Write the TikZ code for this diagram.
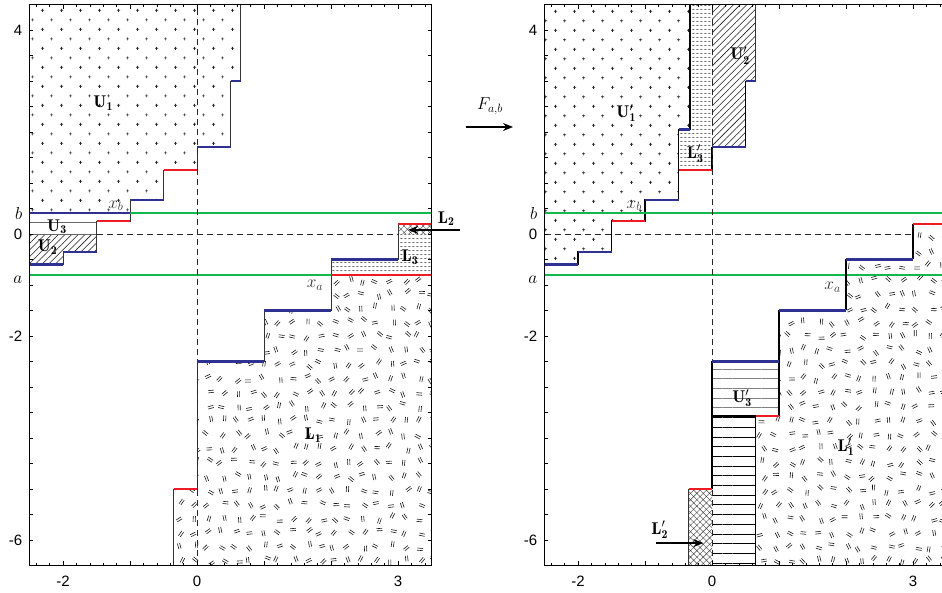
\documentclass[tikz,border=0pt]{standalone}
\usepackage{fontspec}
\setsansfont{Liberation Sans}
\usepackage{tikz}
\usetikzlibrary{arrows.meta, patterns, patterns.meta}
\definecolor{stepblue}{HTML}{2E3192}
\definecolor{stepred}{HTML}{ED1C24}
\definecolor{levelgreen}{HTML}{14B84A}

% plus signs on a staggered grid
\pgfdeclarepatternformonly{plusses}{\pgfpointorigin}{\pgfqpoint{19pt}{19.4pt}}{\pgfqpoint{19pt}{19.4pt}}{%
  \pgfsetlinewidth{0.7pt}%
  \pgfpathmoveto{\pgfqpoint{3.2pt}{4.85pt}}\pgfpathlineto{\pgfqpoint{6.3pt}{4.85pt}}%
  \pgfpathmoveto{\pgfqpoint{4.75pt}{3.3pt}}\pgfpathlineto{\pgfqpoint{4.75pt}{6.4pt}}%
  \pgfpathmoveto{\pgfqpoint{12.7pt}{14.55pt}}\pgfpathlineto{\pgfqpoint{15.8pt}{14.55pt}}%
  \pgfpathmoveto{\pgfqpoint{14.25pt}{13pt}}\pgfpathlineto{\pgfqpoint{14.25pt}{16.1pt}}%
  \pgfusepath{stroke}}
% rows of short dashes
\pgfdeclarepatternformonly{dashrows}{\pgfpointorigin}{\pgfqpoint{4pt}{3.6pt}}{\pgfqpoint{4pt}{3.6pt}}{%
  \pgfsetlinewidth{0.7pt}%
  \pgfpathmoveto{\pgfqpoint{0.4pt}{1.8pt}}\pgfpathlineto{\pgfqpoint{2.9pt}{1.8pt}}%
  \pgfusepath{stroke}}

\tikzset{
  plusfill/.style={pattern=plusses, pattern color=black!85},
  dotfill/.style={pattern=dashrows, pattern color=black!90},
  hatchfill/.style={pattern={Lines[angle=45,distance=4.7pt,line width=0.55pt]}, pattern color=black!90},
  crossfill/.style={pattern={Hatch[angle=45,distance=4.5pt,line width=0.4pt]}, pattern color=black!75},
  hlinefill/.style={pattern={Lines[angle=0,distance=9.7pt,line width=0.6pt]}, pattern color=black},
  greyhlinefill/.style={pattern={Lines[angle=0,distance=9.7pt,line width=0.6pt]}, pattern color=black!50},
  eqmark/.style={line width=0.6pt, black!90},
  bluestep/.style={stepblue, line width=2.4pt},
  redstep/.style={stepred, line width=2.4pt},
  greenlevel/.style={draw=levelgreen, line width=1.6pt},
  zeroline/.style={black!85, line width=0.9pt, dash pattern=on 6pt off 4pt},
  thinstair/.style={black!80, line width=0.8pt},
  thickstair/.style={black, line width=1.5pt},
  framebox/.style={black, line width=1.5pt},
  tickline/.style={black, line width=0.6pt},
  bigarrow/.style={-{Stealth[length=10pt,width=8pt]}, line width=1.4pt},
  lab/.style={font=\fontsize{17}{19}\selectfont, inner sep=0pt},
  ticklab/.style={font=\sffamily\fontsize{15}{17}\selectfont, inner sep=0pt},
}

% random double dashes: x0, columns, rows, seed
\newcommand{\eqfield}[4]{%
  \pgfmathsetseed{#4}
  \foreach \i in {0,...,#2}{
    \foreach \j in {0,...,#3}{
      \pgfmathsetmacro{\mx}{#1+0.1+\i*0.21+0.05*rand}
      \pgfmathsetmacro{\my}{-6.4+\j*0.275+0.06*rand}
      \pgfmathsetmacro{\ma}{180*rnd}
      \draw[eqmark, shift={(\mx,\my)}, rotate=\ma] (-2.9pt,-1.1pt) -- (2.9pt,-1.1pt) (-2.9pt,1.1pt) -- (2.9pt,1.1pt);
    }
  }
}

% axes box, ticks and tick labels
\newcommand{\plotframe}[1]{%
  \foreach \tx in {-2.4,-2.2,...,3.45}{
    \draw[tickline] (\tx,-6.5) -- ++(0,2.5pt);
    \draw[tickline] (\tx,4.5) -- ++(0,-2.5pt);
  }
  \foreach \tx in {-2,...,3}{
    \draw[tickline] (\tx,-6.5) -- ++(0,5pt);
    \draw[tickline] (\tx,4.5) -- ++(0,-5pt);
  }
  \foreach \ty in {-6,-5.5,...,4.1}{
    \draw[tickline] (-2.5,\ty) -- ++(3.5pt,0);
    \draw[tickline] (3.5,\ty) -- ++(-3.5pt,0);
  }
  \draw[framebox] (-2.5,-6.5) rectangle (3.5,4.5);
  \foreach \tx/\tn in {-2/m2, 0/0, 3/3}
    \node[ticklab, anchor=north] (#1x\tn) at ([yshift=-10pt]\tx,-6.5) {\tx};
  \foreach \ty/\tn in {4/4, 0/0, -2/m2, -6/m6}
    \node[ticklab, anchor=east] (#1y\tn) at ([xshift=-7pt]-2.5,\ty) {\ty};
  \node[lab, anchor=east] (#1yb) at ([xshift=-7pt]-2.5,0.41) {$b$};
  \node[lab, anchor=east] (#1ya) at ([xshift=-7pt,yshift=-5pt]-2.5,-0.8) {$a$};
}

\begin{document}
\begin{tikzpicture}
  \useasboundingbox (0,0) rectangle (942pt,592pt);
  \clip (0,0) rectangle (942pt,592pt);
  \fill[white] (0,0) rectangle (942pt,592pt);

  % ---- before the map ----
  \begin{scope}[shift={(197pt,358pt)}, x=67pt, y=51pt]
    \fill[plusfill] (-2.5,4.5) -| (0.65,3) -| (0.5,1.7) -| (0,1.25) -| (-0.5,0.67) -| (-1,0.41) -| (-2.5,4.5) -- cycle;
    \fill[hatchfill] (-2.5,0) -| (-1.5,-0.35) -| (-2,-0.6) -| (-2.5,0) -- cycle;
    \draw[black!60, line width=0.8pt, fill=white] (-2.5,0) rectangle (-1.5,0.22);
    \fill[dotfill] (2,-0.8) |- (3,-0.5) |- (3.5,0) -- (3.5,-0.8) -- cycle;
    \fill[crossfill] (3,0) rectangle (3.5,0.2);
    \begin{scope}
      \clip (-0.35,-6.5) |- (0,-5) |- (1,-2.5) |- (2,-1.5) |- (3.5,-0.8) -- (3.5,-6.5) -- cycle;
      \eqfield{-0.35}{18}{21}{11}
    \end{scope}
    \draw[thinstair] (-2.5,-0.6) -| (-2,-0.35) -| (-1.5,0.25) -| (-1,0.67) -| (-0.5,1.25) -| (0,1.7) -| (0.5,3) -| (0.65,4.5);
    \draw[thinstair] (-0.35,-6.5) |- (0,-5) |- (1,-2.5) |- (2,-1.5) |- (3,-0.5) |- (3.5,0.2);
    \draw[greenlevel] (-2.5,-0.8) -- (3.5,-0.8);
    \draw[greenlevel] (-2.5,0.41) -- (3.5,0.41);
    \draw[zeroline] (0,-6.5) -- (0,4.5);
    \draw[zeroline] (-1.5,0) -- (3,0);
    \foreach \xa/\xb/\yy in {-2.5/-2/-0.6, -2/-1.5/-0.35, -1/-0.5/0.67, 0/0.5/1.7, 0.5/0.65/3,
                             -2.5/-1/0.41, 0/1/-2.5, 1/2/-1.5, 2/3/-0.5}
      \draw[bluestep] (\xa,\yy) -- (\xb,\yy);
    \foreach \xa/\xb/\yy in {-1.5/-1/0.25, -0.5/0/1.25, -0.35/0/-5, 3/3.5/0.2, 2/3.5/-0.8}
      \draw[redstep] (\xa,\yy) -- (\xb,\yy);
    \plotframe{l}
    \node[lab] (U1) at (-1.4,2.57) {$\mathbf{U_1}$};
    \node[lab] (U3) at (-2.09,0.14) {$\mathbf{U_3}$};
    \node[lab] (U2) at (-2.23,-0.26) {$\mathbf{U_2}$};
    \node[lab, black!80] (xb) at (-1.21,0.55) {$x_b$};
    \node[lab] (L3) at (3.18,-0.45) {$\mathbf{L_3}$};
    \node[lab, black!80] (xa) at (1.76,-1.0) {$x_a$};
    \node[lab] (L1) at (1.73,-3.94) {$\mathbf{L_1}$};
    \node[lab] (L2) at (3.72,0.3) {$\mathbf{L_2}$};
    \coordinate (L2tail) at (3.92,0.08);
    \coordinate (L2head) at (3.15,0.08);
    \draw[bigarrow] (L2tail) -- (L2head);
  \end{scope}

  % ---- the map ----
  \coordinate (Ftail) at (466pt,465pt);
  \coordinate (Fhead) at (513pt,465pt);
  \draw[bigarrow] (Ftail) -- (Fhead);
  \node[lab] (Fab) at (490pt,486pt) {$F_{a,b}$};

  % ---- after the map ----
  \begin{scope}[shift={(712pt,358pt)}, x=67pt, y=51pt]
    \fill[plusfill] (-2.5,4.5) -| (-0.33,2.05) -| (-0.5,0.67) -| (-1,0.25) -| (-1.5,-0.35) -| (-2,-0.6) -| (-2.5,4.5) -- cycle;
    \fill[dotfill] (-0.5,1.25) -| (0,4.5) -| (-0.33,2.05) -| (-0.5,1.25) -- cycle;
    \fill[hatchfill] (0,1.7) -| (0.5,3) -| (0.65,4.5) -| (0,1.7) -- cycle;
    \fill[greyhlinefill] (0,-3.57) rectangle (1,-2.5);
    \fill[hlinefill] (0,-6.5) rectangle (0.65,-3.57);
    \fill[crossfill] (-0.35,-6.5) rectangle (0,-5);
    \begin{scope}
      \clip (0.65,-6.5) |- (1,-3.57) |- (2,-1.5) |- (3,-0.5) |- (3.5,0.2) -- (3.5,-6.5) -- cycle;
      \eqfield{0.65}{14}{24}{5}
    \end{scope}
    \draw[thickstair] (-2.5,-0.6) -| (-2,-0.35) -| (-1.5,0.25) -| (-1,0.67) -| (-0.5,2.05) -| (-0.33,4.5);
    \draw[thickstair] (-0.5,1.25) -- (-0.5,2.05);
    \draw[thickstair] (0,1.25) -- (0,1.7);
    \draw[thickstair] (0.5,1.7) -- (0.5,3);
    \draw[greenlevel] (-2.5,-0.8) -- (3.5,-0.8);
    \draw[greenlevel] (-2.5,0.41) -- (3.5,0.41);
    \draw[zeroline] (0,-6.5) -- (0,4.5);
    \draw[zeroline] (-2.5,0) -- (3,0);
    \draw[thinstair] (0.65,3) -- (0.65,4.5);
    \draw[thinstair] (-0.35,-6.5) -- (-0.35,-5);
    \draw[thickstair] (0,-5) -- (0,-2.5);
    \draw[thickstair] (0.65,-6.5) -- (0.65,-3.57);
    \draw[thickstair] (0,-3.57) -- (0.65,-3.57);
    \draw[thickstair] (1,-3.57) -- (1,-1.5);
    \draw[thickstair] (2,-1.5) -- (2,-0.5);
    \draw[thickstair] (3,-0.5) -- (3,0.2);
    \foreach \xa/\xb/\yy in {-2.5/-2/-0.6, -2/-1.5/-0.35, -1/-0.5/0.67, -0.5/-0.33/2.05, 0/0.5/1.7,
                             0.5/0.65/3, 0/1/-2.5, 1/2/-1.5, 2/3/-0.5}
      \draw[bluestep] (\xa,\yy) -- (\xb,\yy);
    \foreach \xa/\xb/\yy in {-1.5/-1/0.25, -0.5/0/1.25, 0.65/1/-3.57, -0.35/0/-5, 3/3.5/0.2}
      \draw[redstep] (\xa,\yy) -- (\xb,\yy);
    \plotframe{r}
    \node[lab] (U1p) at (-1.28,2.37) {$\mathbf{U'_1}$};
    \node[lab] (U2p) at (0.42,3.5) {$\mathbf{U'_2}$};
    \node[lab] (L3p) at (-0.25,1.57) {$\mathbf{L'_3}$};
    \node[lab, black!80] (xbp) at (-1.16,0.55) {$x_b$};
    \node[lab, black!80] (xap) at (1.8,-1.05) {$x_a$};
    \node[lab] (U3p) at (0.45,-3.22) {$\mathbf{U'_3}$};
    \node[lab] (L1p) at (2.0,-4.18) {$\mathbf{L'_1}$};
    \node[lab] (L2p) at (-0.78,-5.8) {$\mathbf{L'_2}$};
    \coordinate (L2ptail) at (-0.84,-6.06);
    \coordinate (L2phead) at (-0.13,-6.06);
    \draw[bigarrow] (L2ptail) -- (L2phead);
  \end{scope}
\end{tikzpicture}
\end{document}
